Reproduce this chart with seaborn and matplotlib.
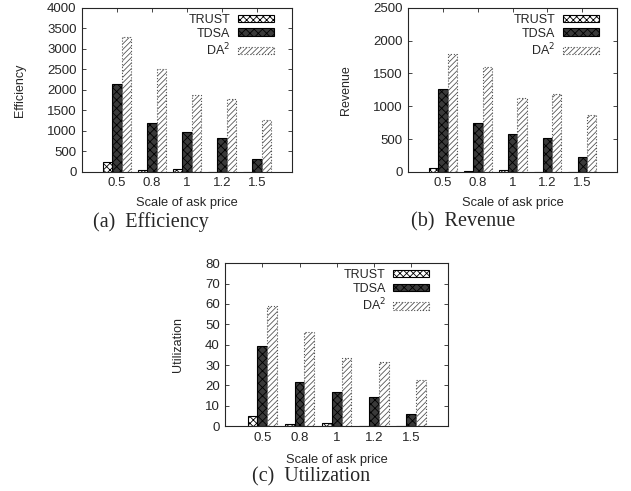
import matplotlib
matplotlib.use("Agg")
import matplotlib.pyplot as plt
import seaborn as sns
import pandas as pd
import numpy as np

scales = ["0.5", "0.8", "1", "1.2", "1.5"]
methods = ["TRUST", "TDSA", "DA$^2$"]

eff_trust = [230, 50, 70, 5, 5]
eff_tdsa = [2140, 1180, 970, 820, 310]
eff_da2 = [3300, 2500, 1870, 1770, 1270]

rev_trust = [65, 10, 30, 3, 3]
rev_tdsa = [1270, 740, 570, 510, 220]
rev_da2 = [1800, 1600, 1120, 1190, 870]

util_trust = [5, 1.2, 1.7, 0.1, 0.1]
util_tdsa = [39.5, 21.5, 17, 14.5, 5.8]
util_da2 = [59, 46, 33.5, 31.5, 22.5]

sns.set_style("ticks")
plt.rcParams['font.family'] = ['Liberation Sans', 'DejaVu Sans']
plt.rcParams['hatch.linewidth'] = 0.6

fig = plt.figure(figsize=(6.31, 4.91), dpi=100)
FS = 9

def make_df(a, b, c):
    rows = []
    for m, vals in zip(methods, [a, b, c]):
        for s, v in zip(scales, vals):
            rows.append({"scale": s, "method": m, "value": v})
    return pd.DataFrame(rows)

styles = [
    dict(facecolor="white", hatch="xxxxx", edgecolor="black", linestyle="-"),
    dict(facecolor="#3a3a3a", hatch="xxxx", edgecolor="black", linestyle="-"),
    dict(facecolor="white", hatch="//////", edgecolor="#555555", linestyle=":"),
]

def style_patch(p, st):
    p.set_facecolor(st["facecolor"])
    p.set_hatch(st["hatch"])
    p.set_edgecolor(st["edgecolor"])
    p.set_linestyle(st["linestyle"])
    p.set_linewidth(0.8)

def panel(rect, a, b, c, ylabel, ymax, ystep, caption, xl_y, cap_x, cap_y):
    ax = fig.add_axes(rect)
    df = make_df(a, b, c)
    sns.barplot(data=df, x="scale", y="value", hue="method", order=scales,
                hue_order=methods, width=0.8, ax=ax, errorbar=None)
    for cont, st in zip(ax.containers, styles):
        for p in cont.patches:
            style_patch(p, st)
    ax.set_xlim(-1, 5)
    ax.set_ylim(0, ymax)
    ax.set_yticks(np.arange(0, ymax + ystep / 2, ystep))
    ax.tick_params(direction="in", top=True, right=True, labelsize=FS + 0.5,
                   length=3, width=0.6, pad=4)
    for sp in ax.spines.values():
        sp.set_visible(True)
        sp.set_linewidth(0.8)
    ax.set_xlabel("")
    ax.set_ylabel(ylabel, fontsize=FS, labelpad=15)
    pos = ax.get_position()
    cx = (pos.x0 + pos.x1) / 2
    fig.text(cx, xl_y, "Scale of ask price", ha="center", va="center", fontsize=FS + 0.3)
    fig.text(cap_x, cap_y, caption, ha="center", va="center", fontsize=14.5,
             family=["Liberation Serif", "DejaVu Serif"])
    handles, labels = ax.get_legend_handles_labels()
    leg = ax.legend(handles, labels, loc="upper right", frameon=False, fontsize=FS,
                    markerfirst=False, handlelength=2.9, handleheight=0.55,
                    labelspacing=0.15, borderaxespad=0.2, handletextpad=0.6,
                    bbox_to_anchor=(0.95, 1.01))
    for h, st in zip(leg.legend_handles, styles):
        style_patch(h, st)
    return ax

panel([0.130, 0.650, 0.333, 0.334], eff_trust, eff_tdsa, eff_da2,
      "Efficiency", 4000, 500, "(a)  Efficiency", 1 - 203 / 491, 151 / 631, 1 - 222 / 491)
panel([0.647, 0.650, 0.331, 0.334], rev_trust, rev_tdsa, rev_da2,
      "Revenue", 2500, 500, "(b)  Revenue", 1 - 203 / 491, 463 / 631, 1 - 222 / 491)
panel([0.357, 0.132, 0.353, 0.332], util_trust, util_tdsa, util_da2,
      "Utilization", 80, 10, "(c)  Utilization", 1 - 460 / 491, 311 / 631, 1 - 477 / 491)

fig.savefig("out.png", dpi=100)
